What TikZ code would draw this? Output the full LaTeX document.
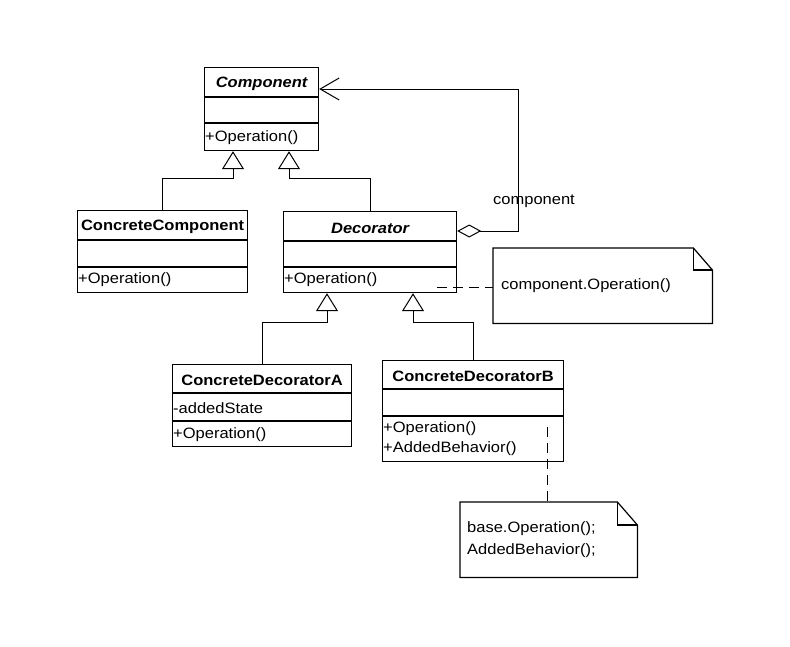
\documentclass[tikz,border=0pt]{standalone}
\usepackage{fontspec}
\setmainfont{Liberation Sans}[FakeStretch=1.1]
\usetikzlibrary{positioning, shapes, arrows, calc, arrows.meta}

\begin{document}
\begin{tikzpicture}[x=1pt, y=-1pt, font=\fontsize{15}{22}\selectfont,
    classbox/.style={draw, line width=1.2pt, rectangle, inner sep=0pt, anchor=north west},
    notebox/.style={rectangle, inner xsep=8pt, inner ysep=0pt, anchor=north west, align=left},
    title/.style={font=\fontsize{15}{18}\selectfont\bfseries},
    member/.style={anchor=west, inner sep=1pt},
    gen/.style={line width=1pt, -{Triangle[open, length=18pt, width=22pt, line width=1pt]}},
    notelink/.style={line width=1pt, dash pattern=on 10pt off 6pt}]
      \useasboundingbox (0,0) rectangle (790,646);

      % Classes
      \node[classbox, minimum width=114pt, minimum height=83pt] (comp) at (204,67) {};
      \draw[line width=1.2pt] ($(comp.north west)+(0,30)$) -- ($(comp.north east)+(0,30)$);
      \draw[line width=1.2pt] ($(comp.north west)+(0,56)$) -- ($(comp.north east)+(0,56)$);
      \node[title] (comp-name) at ($(comp.north)+(0,17)$) {\itshape Component};
      \node[member] (comp-op) at ($(comp.north west)+(0,71)$) {+Operation()};

      \node[classbox, minimum width=170pt, minimum height=82pt] (cc) at (77,210) {};
      \draw[line width=1.2pt] ($(cc.north west)+(0,30)$) -- ($(cc.north east)+(0,30)$);
      \draw[line width=1.2pt] ($(cc.north west)+(0,57)$) -- ($(cc.north east)+(0,57)$);
      \node[title] (cc-name) at ($(cc.north)+(0,17)$) {ConcreteComponent};
      \node[member] (cc-op) at ($(cc.north west)+(0,70)$) {+Operation()};

      \node[classbox, minimum width=173pt, minimum height=81pt] (dec) at (283,211) {};
      \draw[line width=1.2pt] ($(dec.north west)+(0,30)$) -- ($(dec.north east)+(0,30)$);
      \draw[line width=1.2pt] ($(dec.north west)+(0,56)$) -- ($(dec.north east)+(0,56)$);
      \node[title] (dec-name) at ($(dec.north)+(0,17)$) {\itshape Decorator};
      \node[member] (dec-op) at ($(dec.north west)+(0,69)$) {+Operation()};

      \node[classbox, minimum width=179pt, minimum height=82pt] (cda) at (172,364) {};
      \draw[line width=1.2pt] ($(cda.north west)+(0,29)$) -- ($(cda.north east)+(0,29)$);
      \draw[line width=1.2pt] ($(cda.north west)+(0,57)$) -- ($(cda.north east)+(0,57)$);
      \node[title] (cda-name) at ($(cda.north)+(0,16)$) {ConcreteDecoratorA};
      \node[member] (cda-state) at ($(cda.north west)+(0,44)$) {-addedState};
      \node[member] (cda-op) at ($(cda.north west)+(0,71)$) {+Operation()};

      \node[classbox, minimum width=181pt, minimum height=101pt] (cdb) at (382,360) {};
      \draw[line width=1.2pt] ($(cdb.north west)+(0,29)$) -- ($(cdb.north east)+(0,29)$);
      \draw[line width=1.2pt] ($(cdb.north west)+(0,56)$) -- ($(cdb.north east)+(0,56)$);
      \node[title] (cdb-name) at ($(cdb.north)+(0,16)$) {ConcreteDecoratorB};
      \node[member] (cdb-op) at ($(cdb.north west)+(0,69)$) {+Operation()};
      \node[member] (cdb-added) at ($(cdb.north west)+(0,89)$) {+AddedBehavior()};

      % Notes
      \node[notebox, text width=203pt, minimum height=75pt] (note1) at (493,248) {component.Operation()};
      \draw[line width=1.2pt] (note1.north west) -- ($(note1.north east)+(-19,0)$) -- ($(note1.north east)+(0,22)$)
        -- (note1.south east) -- (note1.south west) -- cycle;
      \draw[line width=1.2pt] ($(note1.north east)+(-19,0)$) -- ($(note1.north east)+(-19,22)$) -- ($(note1.north east)+(0,22)$);

      \node[notebox, inner xsep=7pt, text width=163pt, minimum height=75pt] (note2) at (460,502) {base.Operation();\\AddedBehavior();};
      \draw[line width=1.2pt] (note2.north west) -- ($(note2.north east)+(-20,0)$) -- ($(note2.north east)+(0,23)$)
        -- (note2.south east) -- (note2.south west) -- cycle;
      \draw[line width=1.2pt] ($(note2.north east)+(-20,0)$) -- ($(note2.north east)+(-20,23)$) -- ($(note2.north east)+(0,23)$);

      % Generalizations
      \draw[gen] (cc.north) -- ++(0,-32) -| ($(comp.south west)+(29,0)$);
      \draw[gen] (dec.north) -- ++(0,-33) -| ($(comp.south west)+(85,0)$);
      \draw[gen] (cda.north) -- ++(0,-42) -| ($(dec.south west)+(44,0)$);
      \draw[gen] (cdb.north) -- ++(0,-38) -| ($(dec.south west)+(130,0)$);

      % Aggregation
      \draw[line width=1pt, {Diamond[open, length=24pt, width=13pt, line width=1pt]}-{Straight Barb[length=19pt, width=22pt, line width=1pt]}]
        ($(dec.north east)+(0,20)$) -- ++(61,0) |- ($(comp.north east)+(0,22)$);
      \node (agg-label) at (534,201) {component};

      % Note links
      \coordinate (dec-dot) at ($(dec.south west)+(154,-6)$);
      \coordinate (cdb-dot) at ($(cdb.north west)+(165,67)$);
      \draw[notelink] (dec-dot) -- (dec-dot -| note1.west);
      \draw[notelink] (cdb-dot) -- (cdb-dot |- note2.north);
\end{tikzpicture}
\end{document}
